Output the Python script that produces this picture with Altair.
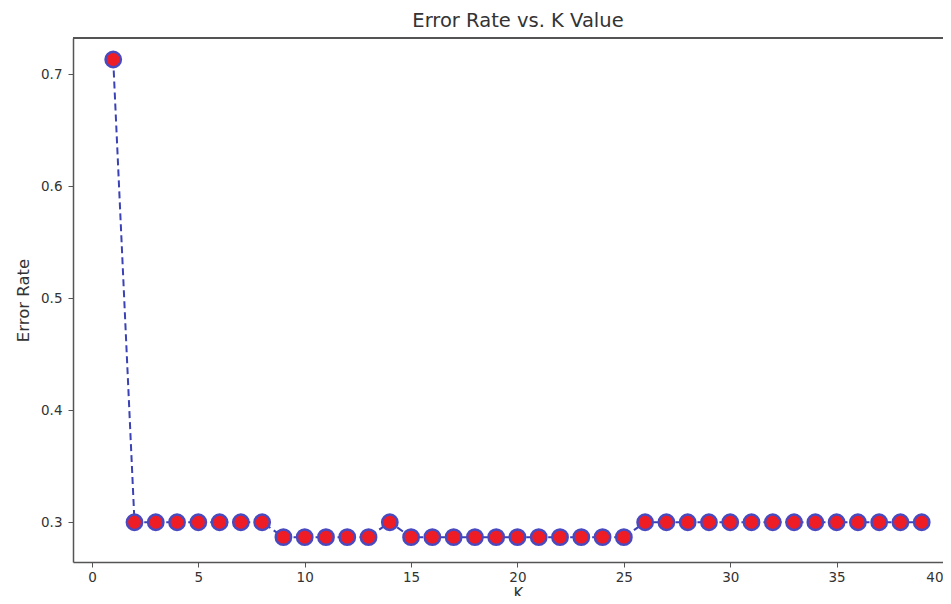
import altair as alt
import pandas as pd

k_values = list(range(1, 40))
error_rate = [0.7133,
              0.3, 0.3, 0.3, 0.3, 0.3, 0.3, 0.3,
              0.2867, 0.2867, 0.2867, 0.2867, 0.2867,
              0.3,
              0.2867, 0.2867, 0.2867, 0.2867, 0.2867, 0.2867,
              0.2867, 0.2867, 0.2867, 0.2867, 0.2867,
              0.3, 0.3, 0.3, 0.3, 0.3, 0.3, 0.3,
              0.3, 0.3, 0.3, 0.3, 0.3, 0.3, 0.3]
x_ticks = [0, 5, 10, 15, 20, 25, 30, 35, 40]
y_ticks = [0.3, 0.4, 0.5, 0.6, 0.7]

df = pd.DataFrame({"K": k_values, "Error Rate": error_rate})

FONT = "DejaVu Sans"
TXT = "#333333"
SPINE = "#555555"
W, H = 870, 524

x_scale = alt.Scale(domain=[-0.89, 40.0], nice=False, zero=False)
y_scale = alt.Scale(domain=[0.2645, 0.7325], nice=False, zero=False)

x_enc = alt.X("K:Q", title="K", scale=x_scale,
              axis=alt.Axis(values=x_ticks, format="d", grid=False, tickSize=5,
                            labelPadding=3, titlePadding=3, labelFontSize=13.5,
                            titleFontSize=15, titleFontWeight="normal",
                            titleX=W / 2 + 10))
y_enc = alt.Y("Error Rate:Q", title="Error Rate", scale=y_scale,
              axis=alt.Axis(values=y_ticks, format=".1f", grid=False, tickSize=5,
                            labelPadding=6, titlePadding=9, labelFontSize=13.5,
                            titleFontSize=16.5, titleFontWeight="normal"))

base = alt.Chart(df).encode(x=x_enc, y=y_enc)

line = base.mark_line(color="#3a42b5", strokeWidth=2, strokeDash=[7, 4])
points = base.mark_point(filled=True, shape="circle", size=235, fill="#ee1c25",
                         stroke="#4a4ac0", strokeWidth=2.5, opacity=1)
# top spine only (the reference is cropped before the right spine)
top_spine = alt.Chart(df).mark_rule(color=SPINE, strokeWidth=1.5).encode(
    x=alt.value(0), x2=alt.value(W), y=alt.value(0))

chart = alt.layer(line, points, top_spine).properties(
    width=W, height=H,
    title=alt.TitleParams("Error Rate vs. K Value", fontSize=19.5, font=FONT,
                          fontWeight="normal", color=TXT, offset=6, dx=10),
    autosize=alt.AutoSizeParams(type="none"),
    padding={"left": 65, "top": 30, "right": 0, "bottom": 34},
).configure_axis(
    labelFont=FONT, titleFont=FONT, labelColor=TXT, titleColor=TXT,
    domainColor=SPINE, tickColor=SPINE, domainWidth=1.5,
).configure_view(
    stroke=None
)

chart.save("out.html", embed_options={"renderer": "svg", "actions": False})
